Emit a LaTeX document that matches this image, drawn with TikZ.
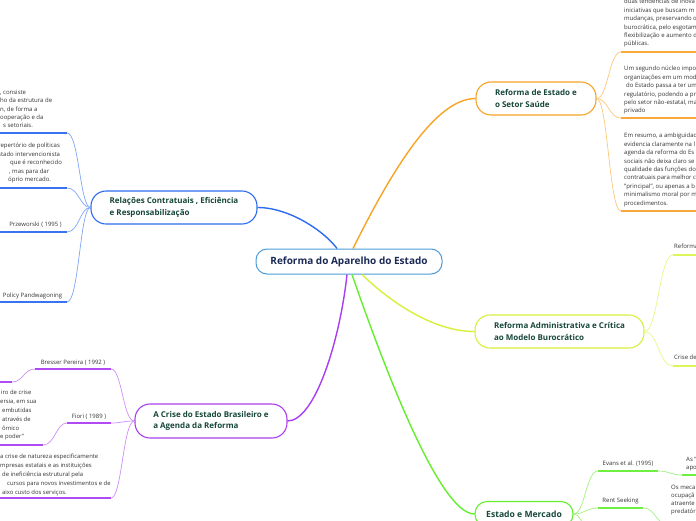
\documentclass[tikz,border=0pt]{standalone}
\usepackage{fontspec}
\setmainfont{Open Sans}
\definecolor{cCen}{HTML}{4A9BD8}
\definecolor{cNavy}{HTML}{1B2A55}
\definecolor{cTopic}{HTML}{17473A}
\definecolor{cText}{HTML}{333333}
\definecolor{cBlueB}{HTML}{2C6CF0}
\definecolor{cBlueT}{HTML}{7FA5F5}
\definecolor{cBlueU}{HTML}{3B73EE}
\definecolor{cOrgB}{HTML}{F7A325}
\definecolor{cOrgT}{HTML}{FCC77A}
\definecolor{cOrgU}{HTML}{F9A93A}
\definecolor{cYelB}{HTML}{D8F03A}
\definecolor{cYelT}{HTML}{E6F785}
\definecolor{cYelU}{HTML}{DEF55A}
\definecolor{cPurB}{HTML}{A93EF0}
\definecolor{cPurT}{HTML}{CF8EF7}
\definecolor{cPurU}{HTML}{B04AF2}
\definecolor{cGrnB}{HTML}{64EE2E}
\definecolor{cGrnT}{HTML}{A2F27E}
\definecolor{cGrnU}{HTML}{6FF040}
\newcommand\fl{\rule{0pt}{6pt}}
\begin{document}
\begin{tikzpicture}[x=1pt,y=-1pt,
  central/.style={draw=cCen, line width=1pt, rounded corners=11pt, fill=white, text=cNavy,
    font=\fontsize{10}{12}\selectfont\bfseries, minimum width=186pt, minimum height=25pt, inner sep=0pt},
  topic/.style={line width=1.1pt, rounded corners=15pt, fill=white, text=cTopic,
    font=\fontsize{8}{11.6}\selectfont\bfseries, align=left, minimum height=33pt, inner sep=0pt},
  sub/.style={text=cText, font=\fontsize{6}{8.4}\selectfont, inner sep=0pt, align=left},
  subp/.style={sub, font=\fontsize{5.9}{8.8}\selectfont},
  ul/.style={line width=1.8pt},
  thin/.style={line width=0.7pt},
  mainc/.style={line width=1.4pt}]
\useasboundingbox (0,0) rectangle (696,520);
\clip (0,0) rectangle (696,520);

% central and topics
\node[central] (c) at (349,261.5) {Reforma do Aparelho do Estado};
\node[topic, draw=cBlueB, minimum width=166pt] (tb) at (174,207.5) {Relações Contratuais , Eficiência\\e Responsabilização};
\node[topic, draw=cOrgB, minimum width=120pt] (to) at (536,98.5) {Reforma de Estado e\\o Setor Saúde};
\node[topic, draw=cYelB, minimum width=169pt] (ty) at (559.5,331.5) {Reforma Administrativa e Crítica\\ao Modelo Burocrático};
\node[topic, draw=cPurB, minimum width=152pt, minimum height=34pt] (tp) at (211,421) {A Crise do Estado Brasileiro e\\a Agenda da Reforma};
\node[topic, draw=cGrnB, minimum width=98pt, minimum height=25pt, rounded corners=12pt, font=\fontsize{8.6}{11}\selectfont\bfseries] (tg) at (524,514) {Estado e Mercado};

% main connectors
\draw[mainc, cBlueB] ([xshift=-12pt]c.north) .. controls (325,232) and (290,207.5) .. (tb.east);
\draw[mainc, cOrgB] ([xshift=4pt]c.north) .. controls (393,168) and (436,98.5) .. (to.west);
\draw[mainc, cYelB] ([xshift=13pt]c.south) .. controls (385,297) and (430,331.5) .. (ty.west);
\draw[mainc, cPurB] ([xshift=-2pt]c.south) .. controls (340,340) and (315,421) .. (tp.east);
\draw[mainc, cGrnB] ([xshift=3pt]c.south) .. controls (385,370) and (440,514) .. (tg.west);

% ---- blue sub-branches
\coordinate (b1) at (67,133); \coordinate (b1e) at (-2,133);
\coordinate (b2) at (67,188); \coordinate (b2e) at (-2,188);
\coordinate (b3) at (67,232); \coordinate (b3e) at (-2,232);
\coordinate (b4) at (67,302); \coordinate (b4e) at (-2,302);
\foreach \k/\yy in {b1/133,b2/188,b3/232,b4/302}{
  \draw[thin, cBlueT] (tb.west) .. controls (80,207.5) and (79,\yy) .. (\k);
  \draw[ul, cBlueU] (\k) -- (\k e);
}
\node[sub, anchor=north west] (tb1) at (0,88.1) {\fl, consiste\\ho da estrutura de\\n, de forma a\\ooperação e da\\\hspace*{3pt}s setoriais.};
\node[sub, anchor=north west] (tb2) at (-2,141.6) {\fl repertório de políticas\\stado intervencionista\\\hspace*{12pt}que é reconhecido\\\hspace*{11pt}, mas para dar\\\hspace*{10pt}óprio mercado.};
\node[sub, anchor=base] (tb3) at (35.5,226.6) {Przeworski ( 1995 )};
\node[sub, anchor=base] (tb4) at (32.5,297.6) {Policy Pandwagoning};

% ---- purple sub-branches
\coordinate (p1) at (111,369); \coordinate (p1a) at (35,369);
\coordinate (p1b) at (12,382); \coordinate (p1c) at (-2,382);
\coordinate (p2) at (111,423); \coordinate (p2a) at (67,423);
\coordinate (p2b) at (43,445); \coordinate (p2c) at (-2,445);
\coordinate (p3) at (111,498); \coordinate (p3e) at (-2,498);
\draw[thin, cPurT] (tp.west) .. controls (123,421) and (122,369) .. (p1);
\draw[thin, cPurT] (tp.west) .. controls (123,421) and (122,423) .. (p2);
\draw[thin, cPurT] (tp.west) .. controls (123,421) and (122,498) .. (p3);
\draw[ul, cPurU] (p1) -- (p1a);
\draw[thin, cPurT] (p1a) .. controls (24,369) and (23,382) .. (p1b);
\draw[ul, cPurU] (p1b) -- (p1c);
\draw[ul, cPurU] (p2) -- (p2a);
\draw[thin, cPurT] (p2a) .. controls (56,423) and (55,445) .. (p2b);
\draw[ul, cPurU] (p2b) -- (p2c);
\draw[ul, cPurU] (p3) -- (p3e);
\node[sub, anchor=base] (tp1) at (73,364.6) {Bresser Pereira ( 1992 )};
\node[sub, anchor=base] (tp2) at (89,418.6) {Fiori ( 1989 )};
\node[subp, anchor=north west] (tp3) at (0,388.6) {\fl\hspace*{1pt}iro de crise\\ersia, em sua\\\hspace*{2pt}embutidas\\\hspace*{2pt}através de\\\hspace*{2pt}ômico\\e poder”};
\node[subp, anchor=north west] (tp4) at (0,452.6) {\fl a crise de natureza especificamente\\mpresas estatais e as instituições\\\hspace*{2pt}de ineficiência estrutural pela\\\hspace*{7pt}cursos para novos investimentos e de\\\hspace*{2pt}aixo custo dos serviços.};

% ---- orange sub-branches
\coordinate (o1) at (621,52);  \coordinate (o1e) at (700,52);
\coordinate (o2) at (621,118); \coordinate (o2e) at (700,118);
\coordinate (o3) at (621,211); \coordinate (o3e) at (700,211);
\foreach \k/\yy in {o1/52,o2/118,o3/211}{
  \draw[thin, cOrgT] (to.east) .. controls (608,98.5) and (609,\yy) .. (\k);
  \draw[ul, cOrgU] (\k) -- (\k e);
}
\node[sub, anchor=north west] (to1) at (624,-2.4) {\fl duas tendências de inova\\iniciativas que buscam m\\mudanças, preservando o\\burocrática, pelo esgotam\\flexibilização e aumento d\\públicas.};
\node[sub, anchor=north west] (to2) at (624,64.6) {\fl Um segundo núcleo impo\\organizações em um mod\\\hspace*{2pt}do Estado passa a ter um\\regulatório, podendo a pr\\pelo setor não-estatal, ma\\privado};
\node[sub, anchor=north west] (to3) at (624,131.6) {\fl Em resumo, a ambiguidad\\evidencia claramente na l\\agenda da reforma do Es\\sociais não deixa claro se\\qualidade das funções do\\contratuais para melhor c\\"principal", ou apenas a b\\minimalismo moral por m\\procedimentos.};

% ---- yellow sub-branches
\coordinate (y1) at (673,255); \coordinate (y1e) at (700,255);
\coordinate (y2) at (673,366); \coordinate (y2e) at (700,366);
\foreach \k/\yy in {y1/255,y2/366}{
  \draw[thin, cYelT] (ty.east) .. controls (658,331.5) and (659,\yy) .. (\k);
  \draw[ul, cYelU] (\k) -- (\k e);
}
\node[sub, anchor=base west] (ty1) at (674,248.6) {Reforma};
\node[sub, anchor=base west] (ty2) at (674,359.6) {Crise de};

% ---- green sub-branches
\coordinate (g1) at (598,471); \coordinate (g1a) at (658,471);
\coordinate (g1b) at (682,475); \coordinate (g1c) at (700,475);
\coordinate (g2) at (598,508); \coordinate (g2a) at (643,508);
\coordinate (g2b) at (668,524); \coordinate (g3) at (600,545);
\draw[thin, cGrnT] (tg.east) .. controls (585,514) and (586,471) .. (g1);
\draw[thin, cGrnT] (tg.east) .. controls (585,514) and (586,508) .. (g2);
\draw[thin, cGrnT] (tg.east) .. controls (585,514) and (584,545) .. (g3);
\draw[ul, cGrnU] (g1) -- (g1a);
\draw[thin, cGrnT] (g1a) .. controls (670,471) and (670,475) .. (g1b);
\draw[ul, cGrnU] (g1b) -- (g1c);
\draw[ul, cGrnU] (g2) -- (g2a);
\draw[thin, cGrnT] (g2a) .. controls (656,508) and (655,524) .. (g2b);
\node[sub, anchor=base] (tg1) at (628,465.6) {Evans et al. (1995)};
\node[sub, anchor=base] (tg2) at (620.5,502.6) {Rent Seeking};
\node[sub, anchor=north west, font=\fontsize{6}{8}\selectfont] (tg3) at (686,455.6) {\fl As “\\apo};
\node[sub, anchor=north west, font=\fontsize{6}{7.8}\selectfont] (tg4) at (671,483.6) {\fl Os meca\\ocupaçã\\atraente\\predatór};
\end{tikzpicture}
\end{document}
